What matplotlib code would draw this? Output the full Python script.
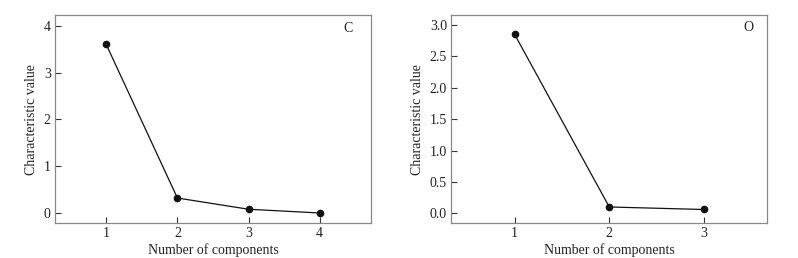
import matplotlib
matplotlib.use("Agg")
import matplotlib.pyplot as plt

plt.rcParams['font.family'] = ['Liberation Serif', 'DejaVu Serif']
plt.rcParams['font.size'] = 10

c_components = [1, 2, 3, 4]
c_values = [3.60, 0.32, 0.08, 0.0]
o_components = [1, 2, 3]
o_values = [2.85, 0.10, 0.06]

c_yticks = [0, 1, 2, 3, 4]
o_yticks = [0.0, 0.5, 1.0, 1.5, 2.0, 2.5, 3.0]

fig = plt.figure(figsize=(7.98, 2.58), dpi=100)
ax1 = fig.add_axes([0.0689, 0.1345, 0.396, 0.8074])
ax2 = fig.add_axes([0.5655, 0.1345, 0.396, 0.8074])

def style(ax):
    for s in ax.spines.values():
        s.set_color('#888888')
        s.set_linewidth(0.9)
    ax.tick_params(direction='in', length=4, width=0.8, color='#333333',
                   labelsize=10, labelcolor='#222222', pad=3)
    ax.set_xlabel('Number of components', fontsize=10, color='#222222', labelpad=2)
    ax.set_ylabel('Characteristic value', fontsize=10, color='#222222', labelpad=4)

ax1.plot(c_components, c_values, '-o', color='#111111', lw=0.9, ms=4.5)
ax1.set_xlim(0.28, 4.72)
ax1.set_ylim(-0.22, 4.23)
ax1.set_xticks(c_components)
ax1.set_yticks(c_yticks)
ax1.set_yticklabels([str(v) for v in c_yticks])
ax1.text(0.927, 0.933, 'C', transform=ax1.transAxes, ha='center', va='center',
         fontsize=10, color='#222222')
style(ax1)

ax2.plot(o_components, o_values, '-o', color='#111111', lw=0.9, ms=4.5)
ax2.set_xlim(0.33, 3.67)
ax2.set_ylim(-0.16, 3.16)
ax2.set_xticks(o_components)
ax2.set_yticks(o_yticks)
ax2.set_yticklabels([f'{v:.1f}' for v in o_yticks])
ax2.text(0.941, 0.94, 'O', transform=ax2.transAxes, ha='center', va='center',
         fontsize=10, color='#222222')
style(ax2)

fig.savefig('out.png', dpi=100)
